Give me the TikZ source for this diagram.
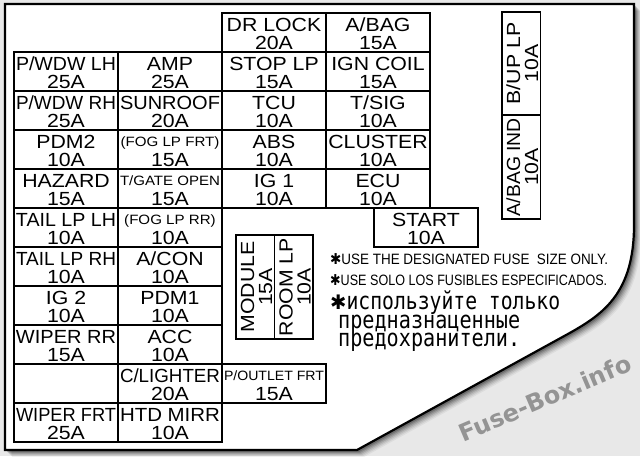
\documentclass[tikz,border=0pt]{standalone}
\usepackage{fontspec}
\usepackage{graphicx}
\setmainfont{Liberation Sans}
\newfontfamily\cadf{Liberation Sans}[FakeStretch=1.12]
\newfontfamily\monof{DejaVu Sans Mono}
\newfontfamily\wmf{DejaVu Sans}
\usetikzlibrary{calc}

\newsavebox\fitbox
\newcommand\fitw[2]{\sbox\fitbox{#2}\ifdim\wd\fitbox>#1\relax\pgfmathsetmacro\fitr{#1/\wd\fitbox}\scalebox{\fitr}[1]{\usebox\fitbox}\else\usebox\fitbox\fi}
\newcommand\fitto[2]{\sbox\fitbox{#2}\pgfmathsetmacro\fitr{#1/\wd\fitbox}\scalebox{\fitr}[1]{\usebox\fitbox}}
\newcommand\cyrtxt[1]{\scalebox{0.84}[1]{\monof\fontsize{24}{24}\selectfont #1}}
\newcommand\astk{{\wmf\bfseries ✱}}

\tikzset{
  cellbox/.style={draw, line width=1.4pt, inner sep=0pt, minimum width=104pt, minimum height=39pt},
  big/.style={font=\cadf\fontsize{19}{19}\selectfont, inner sep=0pt, anchor=base},
  small/.style={font=\cadf\fontsize{13.5}{13.5}\selectfont, inner sep=0pt, anchor=base, yshift=2.5pt},
  note/.style={font=\fontsize{15}{15}\selectfont, inner sep=0pt, anchor=base west},
}

% name, x-left, y-top, style line1, line1, line2
\newcommand\fuse[6]{%
  \node[cellbox] (#1) at ({#2+52},{#3+19.5}) {};
  \node[#4] (#1-n) at ({#2+52},{#3+18.5}) {\fitw{100pt}{#5}};
  \node[big] (#1-a) at ({#2+52},{#3+36}) {#6};
}
% vertical fuse: name, x-left, y-top, height, line1, line2
\newcommand\vfuse[6]{%
  \node[draw, line width=1.4pt, inner sep=0pt, minimum width=38.5pt, minimum height=#4pt] (#1) at ({#2+19.25},{#3+#4/2}) {};
  \node[big, rotate=90] (#1-n) at ({#2+18},{#3+#4/2}) {\fitw{98pt}{#5}};
  \node[big, rotate=90] (#1-a) at ({#2+36},{#3+#4/2}) {#6};
}

\def\outline{(5,4) -- (634,4) -- (634,225) .. controls (634,300) and (597,318) .. (557,340) -- (357,450) -- (5,450) -- cycle}

\begin{document}
\begin{tikzpicture}[x=1pt,y=-1pt]
\useasboundingbox (0,0) rectangle (640,456);
\fill[black!9] (0,0) rectangle (640,456);
% shadow
\foreach \d/\o in {7/0.05,6/0.07,5/0.09,4/0.12,3/0.15,2/0.2}
  \fill[black, opacity=\o, shift={(\d,\d)}] \outline;
\filldraw[fill=white, draw=black, line width=2.2pt, line join=miter] \outline;

% watermark
\node[font=\wmf\bfseries\fontsize{24}{24}\selectfont, text=black!42, rotate=23] (wm) at (545,398) {Fuse-Box.info};

% left block, column 1
\fuse{a0}{14}{52}{big}{P/WDW LH}{25A}
\fuse{a1}{14}{91}{big}{P/WDW RH}{25A}
\fuse{a2}{14}{130}{big}{PDM2}{10A}
\fuse{a3}{14}{169}{big}{HAZARD}{15A}
\fuse{a4}{14}{208}{big}{TAIL LP LH}{10A}
\fuse{a5}{14}{247}{big}{TAIL LP RH}{10A}
\fuse{a6}{14}{286}{big}{IG 2}{10A}
\fuse{a7}{14}{325}{big}{WIPER RR}{15A}
\node[cellbox] (a8) at (66,383.5) {};
\fuse{a9}{14}{403}{big}{WIPER FRT}{25A}

% left block, column 2
\fuse{b0}{118}{52}{big}{AMP}{25A}
\fuse{b1}{118}{91}{big}{SUNROOF}{20A}
\fuse{b2}{118}{130}{small}{(FOG LP FRT)}{15A}
\fuse{b3}{118}{169}{small}{T/GATE OPEN}{15A}
\fuse{b4}{118}{208}{small}{(FOG LP RR)}{10A}
\fuse{b5}{118}{247}{big}{A/CON}{10A}
\fuse{b6}{118}{286}{big}{PDM1}{10A}
\fuse{b7}{118}{325}{big}{ACC}{10A}
\fuse{b8}{118}{364}{big}{C/LIGHTER}{20A}
\fuse{b9}{118}{403}{big}{HTD MIRR}{10A}

% middle block
\fuse{c0}{222}{13}{big}{DR LOCK}{20A}
\fuse{c1}{222}{52}{big}{STOP LP}{15A}
\fuse{c2}{222}{91}{big}{TCU}{10A}
\fuse{c3}{222}{130}{big}{ABS}{10A}
\fuse{c4}{222}{169}{big}{IG 1}{10A}
\fuse{d0}{326}{13}{big}{A/BAG}{15A}
\fuse{d1}{326}{52}{big}{IGN COIL}{15A}
\fuse{d2}{326}{91}{big}{T/SIG}{10A}
\fuse{d3}{326}{130}{big}{CLUSTER}{10A}
\fuse{d4}{326}{169}{big}{ECU}{10A}

\fuse{st}{374}{208}{big}{START}{10A}
\fuse{po}{222}{364}{small}{P/OUTLET FRT}{15A}

% vertical fuses
\vfuse{mo}{236}{235}{104}{MODULE}{15A}
\vfuse{rl}{274.5}{235}{104}{ROOM LP}{10A}
\vfuse{bu}{502}{12}{103}{B/UP LP}{10A}
\vfuse{ab}{502}{115}{104}{A/BAG IND}{10A}

% notes
\node[note] (n1) at (330,264) {\fitto{278pt}{\astk USE THE DESIGNATED FUSE\ \ SIZE ONLY.}};
\node[note] (n2) at (330,285) {\fitto{277pt}{\astk USE SOLO LOS FUSIBLES ESPECIFICADOS.}};
\node[note] (n3) at (330,309) {\fitto{230pt}{\fontsize{20}{20}\selectfont\astk\cyrtxt{используйте только}}};
\node[note] (n4) at (338,328) {\cyrtxt{предназнаценные}};
\node[note] (n5) at (338,346) {\cyrtxt{предохранители.}};
\end{tikzpicture}
\end{document}
